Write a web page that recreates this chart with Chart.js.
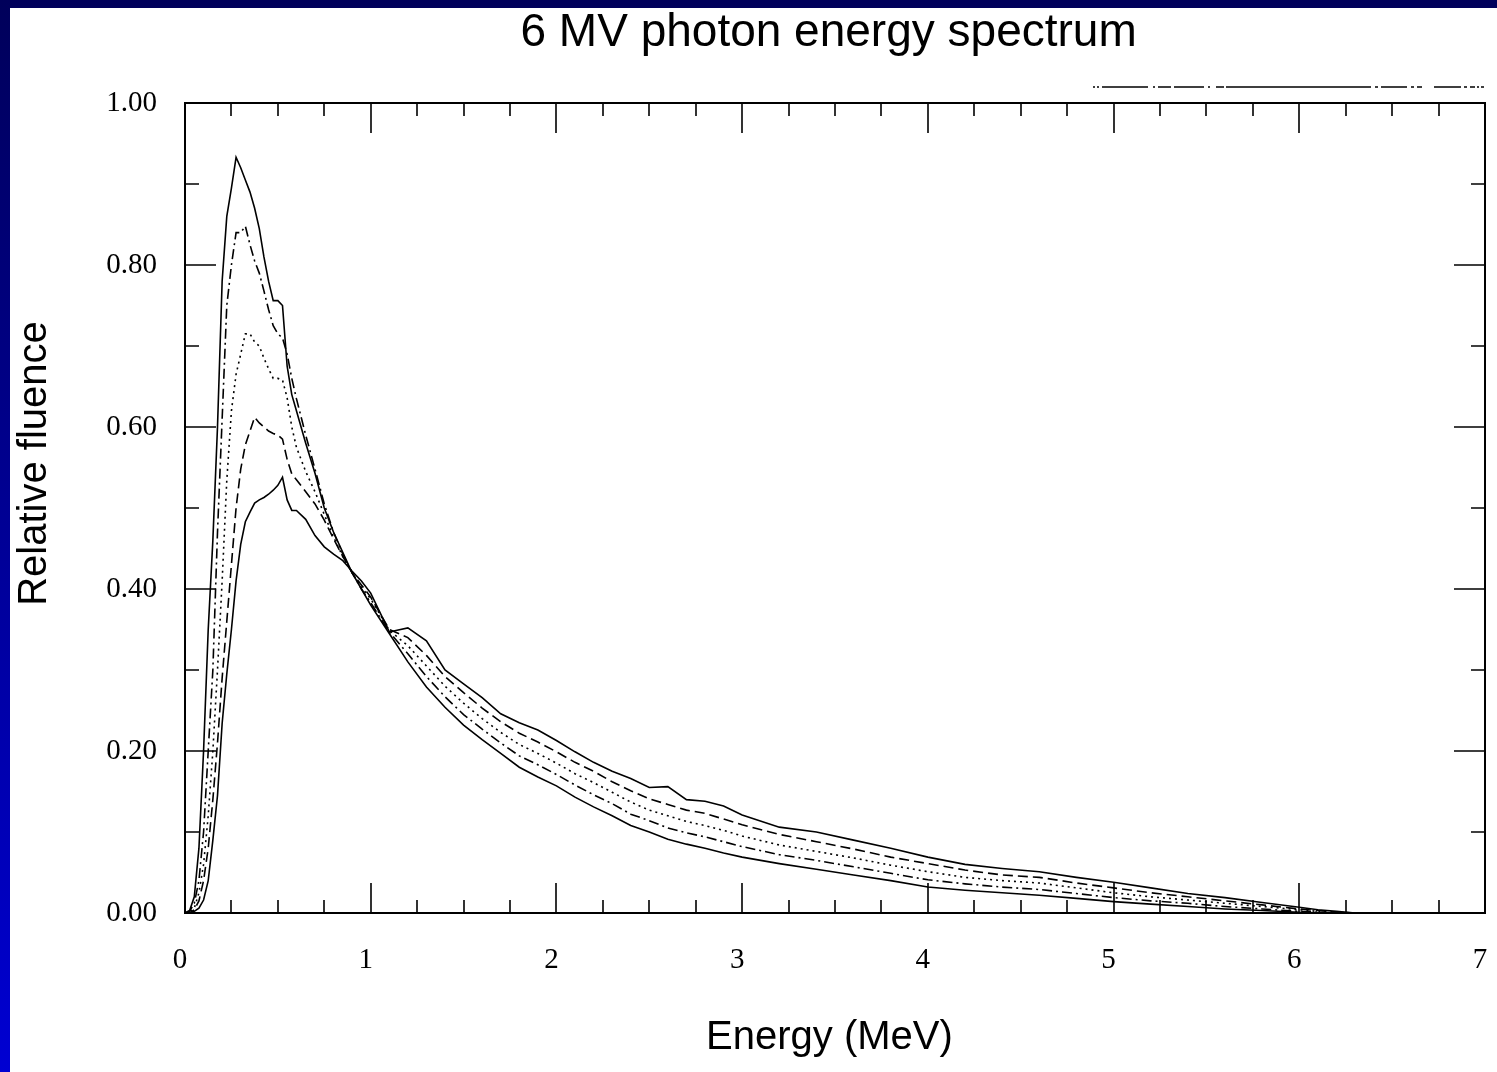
<!DOCTYPE html>
<html>
<head>
<meta charset="utf-8">
<title>6 MV photon energy spectrum</title>
<script src="https://cdn.jsdelivr.net/npm/chart.js@4.4.1/dist/chart.umd.min.js"></script>
<style>
  html, body { margin: 0; padding: 0; }
  body {
    width: 1497px; height: 1072px; overflow: hidden; position: relative;
    background: linear-gradient(to bottom, #00005a, #0000d2);
  }
  #plotBox {
    position: absolute; left: 10px; top: 8px;
    width: 1487px; height: 1064px; background: #fff;
  }
  #spectrumChart { display: block; }
</style>
</head>
<body>
<div id="plotBox">
  <canvas id="spectrumChart" width="1487" height="1064"></canvas>
</div>
<script>
// --- Data ---
const energy = [
  0, 0.025, 0.05, 0.075, 0.1, 0.125, 0.15, 0.175, 0.2, 0.225, 0.25, 0.275, 0.3,
  0.325, 0.35, 0.375, 0.4, 0.425, 0.45, 0.475, 0.5, 0.525, 0.55, 0.575, 0.6,
  0.65, 0.7, 0.75, 0.8, 0.85, 0.9, 0.95, 1.0,
  1.1, 1.2, 1.3, 1.4, 1.5, 1.6, 1.7, 1.8, 1.9, 2.0,
  2.1, 2.2, 2.3, 2.4, 2.5, 2.6, 2.7, 2.8, 2.9, 3.0,
  3.2, 3.4, 3.6, 3.8, 4.0, 4.2, 4.4, 4.6, 4.8, 5.0, 5.2, 5.4, 5.6, 5.8, 6.0,
  6.1, 6.2, 6.3
];

// highest peak, solid
const fluenceSolidHigh = [
  0, 0.003, 0.02, 0.08, 0.20, 0.35, 0.46, 0.60, 0.78, 0.86, 0.895, 0.933, 0.92,
  0.905, 0.89, 0.87, 0.845, 0.81, 0.78, 0.756, 0.756, 0.75, 0.675, 0.64, 0.62,
  0.58, 0.543, 0.50, 0.47, 0.445, 0.42, 0.40, 0.38,
  0.345, 0.310, 0.279, 0.254, 0.232, 0.214, 0.197, 0.180, 0.168, 0.157,
  0.143, 0.131, 0.120, 0.108, 0.100, 0.091, 0.085, 0.080, 0.074, 0.069,
  0.061, 0.054, 0.047, 0.040, 0.032, 0.028, 0.025, 0.022, 0.018, 0.014, 0.011, 0.008, 0.005, 0.003, 0.001,
  0, 0, 0
];

// dash-dot
const fluenceDashDot = [
  0, 0.002, 0.012, 0.04, 0.10, 0.20, 0.30, 0.47, 0.61, 0.75, 0.80, 0.84, 0.84,
  0.848, 0.825, 0.805, 0.79, 0.768, 0.745, 0.725, 0.715, 0.71, 0.69, 0.66, 0.635,
  0.59, 0.548, 0.505, 0.47, 0.443, 0.42, 0.40, 0.383,
  0.347, 0.320, 0.292, 0.267, 0.245, 0.227, 0.210, 0.194, 0.183, 0.171,
  0.158, 0.146, 0.135, 0.122, 0.114, 0.105, 0.099, 0.094, 0.088, 0.082,
  0.072, 0.065, 0.057, 0.049, 0.041, 0.036, 0.032, 0.029, 0.024, 0.019, 0.015, 0.012, 0.008, 0.005, 0.002,
  0.001, 0, 0
];

// dotted
const fluenceDotted = [
  0, 0.001, 0.006, 0.025, 0.06, 0.12, 0.20, 0.30, 0.41, 0.534, 0.62, 0.665, 0.69,
  0.715, 0.715, 0.705, 0.70, 0.685, 0.672, 0.66, 0.66, 0.658, 0.636, 0.60, 0.575,
  0.545, 0.52, 0.492, 0.464, 0.44, 0.42, 0.402, 0.388,
  0.349, 0.330, 0.305, 0.280, 0.259, 0.240, 0.223, 0.208, 0.197, 0.185,
  0.172, 0.161, 0.149, 0.137, 0.127, 0.120, 0.113, 0.108, 0.102, 0.095,
  0.084, 0.076, 0.068, 0.059, 0.051, 0.044, 0.040, 0.037, 0.031, 0.025, 0.020, 0.016, 0.012, 0.008, 0.004,
  0.002, 0.001, 0
];

// dashed
const fluenceDashed = [
  0, 0, 0.004, 0.015, 0.04, 0.08, 0.14, 0.21, 0.29, 0.36, 0.43, 0.50, 0.548,
  0.578, 0.595, 0.612, 0.605, 0.60, 0.595, 0.592, 0.59, 0.585, 0.56, 0.542, 0.535,
  0.52, 0.505, 0.485, 0.462, 0.44, 0.42, 0.405, 0.39,
  0.350, 0.340, 0.318, 0.292, 0.272, 0.253, 0.236, 0.222, 0.211, 0.199,
  0.186, 0.175, 0.162, 0.151, 0.141, 0.134, 0.127, 0.123, 0.116, 0.109,
  0.097, 0.088, 0.079, 0.069, 0.061, 0.053, 0.047, 0.044, 0.037, 0.031, 0.025, 0.020, 0.015, 0.010, 0.005,
  0.003, 0.001, 0
];

// lowest peak, solid (hardest spectrum, top of the tail)
const fluenceSolidLow = [
  0, 0, 0.002, 0.006, 0.016, 0.04, 0.09, 0.145, 0.234, 0.295, 0.35, 0.41, 0.455,
  0.483, 0.495, 0.506, 0.51, 0.513, 0.517, 0.522, 0.528, 0.538, 0.51, 0.497, 0.497,
  0.486, 0.466, 0.452, 0.443, 0.435, 0.422, 0.41, 0.395,
  0.347, 0.352, 0.336, 0.300, 0.283, 0.266, 0.246, 0.235, 0.226, 0.213,
  0.199, 0.186, 0.175, 0.166, 0.155, 0.156, 0.140, 0.138, 0.132, 0.121,
  0.106, 0.100, 0.090, 0.080, 0.069, 0.060, 0.055, 0.051, 0.044, 0.038, 0.031, 0.024, 0.019, 0.013, 0.007,
  0.004, 0.002, 0
];

const seriesValues = [fluenceSolidHigh, fluenceDashDot, fluenceDotted, fluenceDashed, fluenceSolidLow];
const seriesDashes = [[], [10, 4, 2, 4], [2, 4], [10, 5], []];

const xMinorStep = 0.25;
const yMinorStep = 0.1;

// --- Box, inward ticks on all four sides, and the clipped legend stroke ---
const frameTicks = {
  id: 'frameTicks',
  afterDatasetsDraw(chart) {
    const { ctx, chartArea: a, scales: { x, y } } = chart;
    ctx.save();
    ctx.strokeStyle = '#000';
    ctx.lineWidth = 2;
    ctx.setLineDash([]);
    ctx.strokeRect(a.left, a.top, a.right - a.left, a.bottom - a.top);

    ctx.lineWidth = 1.6;
    ctx.beginPath();
    for (let v = x.min; v <= x.max + 1e-9; v += xMinorStep) {
      const px = Math.round(x.getPixelForValue(v));
      const len = Math.abs(v - Math.round(v)) < 1e-6 ? 30 : 13;
      ctx.moveTo(px, a.bottom); ctx.lineTo(px, a.bottom - len);
      ctx.moveTo(px, a.top); ctx.lineTo(px, a.top + len);
    }
    for (let i = 0; y.min + i * yMinorStep <= y.max + 1e-9; i++) {
      const py = Math.round(y.getPixelForValue(y.min + i * yMinorStep));
      const len = i % 2 === 0 ? 31 : 14;
      ctx.moveTo(a.left, py); ctx.lineTo(a.left + len, py);
      ctx.moveTo(a.right, py); ctx.lineTo(a.right - len, py);
    }
    ctx.stroke();

    // legend remnant above the frame
    ctx.lineWidth = 1.5;
    ctx.setLineDash([2, 2, 2, 3, 46, 5, 2, 3, 13, 3, 30, 4, 2, 6, 8, 2, 145, 4, 3, 3, 26, 4, 3, 3, 5, 12, 27, 3, 3, 3, 5]);
    ctx.beginPath();
    ctx.moveTo(a.right - 392, a.top - 16);
    ctx.lineTo(a.right + 5, a.top - 16);
    ctx.stroke();
    ctx.restore();
  }
};

// --- Chart ---
const ctx = document.getElementById('spectrumChart').getContext('2d');
const spectrumChart = new Chart(ctx, {
  type: 'line',
  data: {
    datasets: seriesValues.map((vals, i) => ({
      data: energy.map((e, j) => ({ x: e, y: vals[j] })),
      borderColor: '#000',
      borderWidth: 1.6,
      borderDash: seriesDashes[i],
      pointRadius: 0,
      fill: false,
      tension: 0
    }))
  },
  options: {
    responsive: false,
    animation: false,
    devicePixelRatio: 1,
    layout: { padding: { left: 0, right: 12, top: 0, bottom: 0 } },
    plugins: {
      legend: { display: false },
      tooltip: { enabled: false },
      title: {
        display: true,
        // trailing space nudges the centred title slightly left, as in the original
        text: '6 MV photon energy spectrum ',
        fullSize: false,
        color: '#000',
        font: { family: 'Liberation Sans', size: 46, weight: 'normal', lineHeight: 1 },
        padding: { top: 2, bottom: 47 }
      }
    },
    scales: {
      x: {
        type: 'linear',
        min: 0,
        max: 7,
        grid: { display: false, drawTicks: false },
        border: { display: false },
        ticks: {
          stepSize: 1,
          padding: 30,
          labelOffset: -5,
          color: '#000',
          maxRotation: 0,
          font: { family: 'Liberation Serif', size: 29 }
        },
        title: {
          display: true,
          text: 'Energy (MeV) ',
          color: '#000',
          font: { family: 'Liberation Sans', size: 40 },
          padding: { top: 0, bottom: 10 }
        },
        afterFit(scale) {
          scale.height = 159;
          // keep the end labels from pulling the frame inward
          scale.paddingLeft = 0;
          scale.paddingRight = 0;
        }
      },
      y: {
        type: 'linear',
        min: 0,
        max: 1,
        grid: { display: false, drawTicks: false },
        border: { display: false },
        ticks: {
          stepSize: 0.2,
          padding: 28,
          color: '#000',
          font: { family: 'Liberation Serif', size: 29 },
          callback: (v) => v.toFixed(2)
        },
        title: {
          display: true,
          // leading spaces lift the label above the axis centre, as in the original
          text: '        Relative fluence',
          color: '#000',
          font: { family: 'Liberation Sans', size: 40 },
          padding: { top: 1, bottom: 0 }
        },
        afterFit(scale) { scale.width = 175; }
      }
    }
  },
  plugins: [frameTicks]
});
</script>
</body>
</html>
